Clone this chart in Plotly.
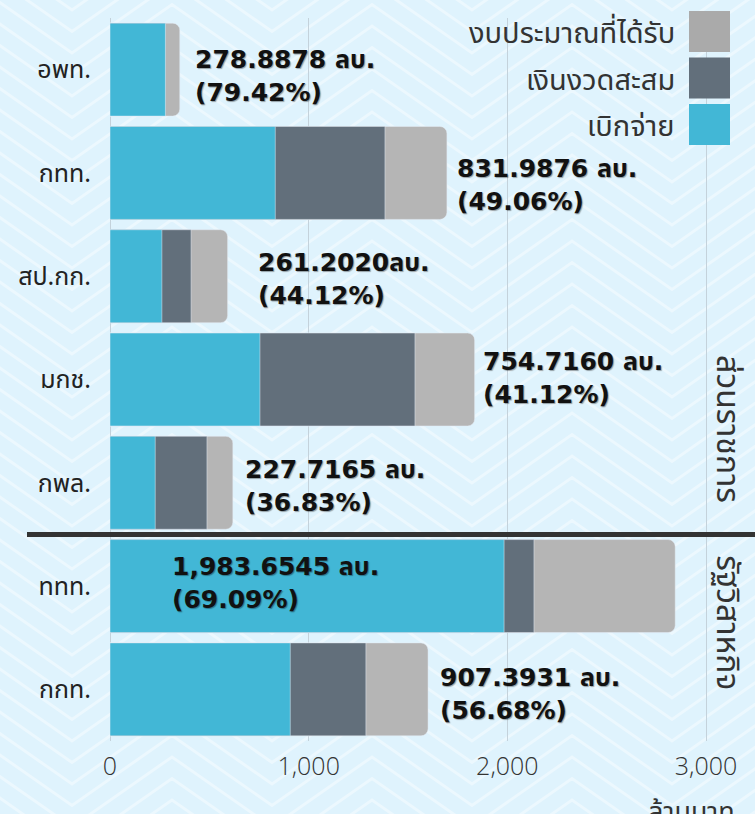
import plotly.graph_objects as go

# หน่วย: ล้านบาท
categories = ["อพท.", "กทท.", "สป.กก.", "มกช.", "กพล.", "ททท.", "กกท."]
budget = [351.2, 1695.9, 592.0, 1835.4, 618.3, 2845.0, 1600.9]
cumulative = [278.9, 1384.0, 408.0, 1535.0, 488.0, 2134.0, 1288.0]
disbursed = [278.8878, 831.9876, 261.2020, 754.7160, 227.7165, 1983.6545, 907.3931]
disbursed_pct = [79.42, 49.06, 44.12, 41.12, 36.83, 69.09, 56.68]
value_labels = [
    "278.8878 ลบ.",
    "831.9876 ลบ.",
    "261.2020ลบ.",
    "754.7160 ลบ.",
    "227.7165 ลบ.",
    "1,983.6545 ลบ.",
    "907.3931 ลบ.",
]
x_ticks = [0, 1000, 2000, 3000]

# where each value label sits (x in data units, vertical nudge in px)
label_x = [418, 1737, 735, 1867, 669, 302, 1651]
label_dy = [6, 12, 3, -2, 3, -3, 5]

GRAY = "#B5B5B5"
DARK = "#626F7B"
BLUE = "#42B7D6"
THAI = "Noto Sans Thai, Noto Sans, sans-serif"
W, H = 755, 814
L, R, T, B = 110, 0, 18, 73
px_per_unit = (706 - 110) / 3000


def to_paper(px, py):
    return (px - L) / (W - L - R), (H - B - py) / (H - T - B)


fig = go.Figure()
fig.add_trace(go.Bar(y=categories, x=budget, orientation="h", name="งบประมาณที่ได้รับ",
                     marker=dict(color=GRAY, cornerradius=7)))
fig.add_trace(go.Bar(y=categories, x=cumulative, orientation="h", name="เงินงวดสะสม",
                     marker=dict(color=DARK)))
fig.add_trace(go.Bar(y=categories, x=disbursed, orientation="h", name="เบิกจ่าย",
                     marker=dict(color=BLUE)))

# chevron background pattern
parts = []
for k in range(-6, 42):
    y0 = -60 + 21.5 * k
    pts = []
    for m in range(-1, 6):
        pts.append((72 + 200 * m, y0 + 70))
        pts.append((172 + 200 * m, y0))
    s = ""
    for i, (px, py) in enumerate(pts):
        fx, fy = to_paper(px, py)
        s += ("M" if i == 0 else "L") + f"{fx:.4f},{fy:.4f} "
    parts.append(s)
shapes = [dict(type="path", xref="paper", yref="paper", path="".join(parts), layer="below",
               line=dict(color="rgba(255,255,255,0.4)", width=3))]

# separator between ส่วนราชการ and รัฐวิสาหกิจ
fx0, _ = to_paper(27, 0)
shapes.append(dict(type="line", xref="paper", yref="y", x0=fx0, x1=1, y0=4.5, y1=4.5,
                   line=dict(color="#333333", width=5)))

# legend drawn by hand: text on the left, swatch on the right
legend_items = [("งบประมาณที่ได้รับ", "#AAAAAA"), ("เงินงวดสะสม", DARK), ("เบิกจ่าย", BLUE)]
annotations = []
for i, (name, color) in enumerate(legend_items):
    top = 11 + 46.5 * i
    xa, ya = to_paper(689, top)
    xb, yb = to_paper(730, top + 41)
    shapes.append(dict(type="rect", xref="paper", yref="paper", x0=xa, x1=xb, y0=yb, y1=ya,
                       fillcolor=color, line=dict(width=0)))
    tx, ty = to_paper(677, top + 23)
    annotations.append(dict(xref="paper", yref="paper", x=tx, y=ty, xanchor="right",
                            yanchor="middle", showarrow=False, text=name,
                            font=dict(family=THAI, size=29, color="#333333")))

for cat, xv, lab, pct, dy in zip(categories, label_x, value_labels, disbursed_pct, label_dy):
    annotations.append(dict(x=xv, y=cat, xanchor="left", yanchor="middle", showarrow=False,
                            align="left", yshift=-dy, text=f"{lab}<br>({pct:.2f}%)",
                            font=dict(family="DejaVu Sans, " + THAI, size=25, color="#111111",
                                      weight="bold", shadow="1px 1px 1px rgba(0,0,0,0.35)")))

for text, yc in [("ส่วนราชการ", 3.48), ("รัฐวิสาหกิจ", 5.35)]:
    fx, _ = to_paper(727, 0)
    annotations.append(dict(xref="paper", x=fx, y=yc, xanchor="center", yanchor="middle",
                            showarrow=False, textangle=90, text=text,
                            font=dict(family=THAI, size=32, color="#333333")))

ux, uy = to_paper(737, 790)
annotations.append(dict(xref="paper", yref="paper", x=ux, y=uy, xanchor="right", yanchor="top",
                        showarrow=False, text="ล้านบาท",
                        font=dict(family=THAI, size=27, color="#333333")))

fig.update_layout(
    width=W,
    height=H,
    barmode="overlay",
    bargap=0.1,
    showlegend=False,
    paper_bgcolor="#DFF3FD",
    plot_bgcolor="rgba(0,0,0,0)",
    margin=dict(l=L, r=R, t=T, b=B, pad=0),
    shapes=shapes,
    annotations=annotations,
    xaxis=dict(
        range=[0, (W - L - R) / px_per_unit],
        tickvals=x_ticks,
        tickformat=",d",
        showgrid=True,
        gridcolor="#C4D2DB",
        gridwidth=1,
        zeroline=True,
        zerolinecolor="#C4D2DB",
        zerolinewidth=1,
        ticklabelstandoff=8,
        tickfont=dict(family="Open Sans, Noto Sans, sans-serif", size=25, color="#333333",
                      weight=300),
        fixedrange=True,
    ),
    yaxis=dict(
        autorange="reversed",
        showgrid=False,
        ticklabelstandoff=18,
        tickfont=dict(family=THAI, size=25, color="#222222"),
        fixedrange=True,
    ),
)

fig.write_html(
    "out.html",
    config={"displayModeBar": False},
    post_script="document.body.style.margin='0';",
)
